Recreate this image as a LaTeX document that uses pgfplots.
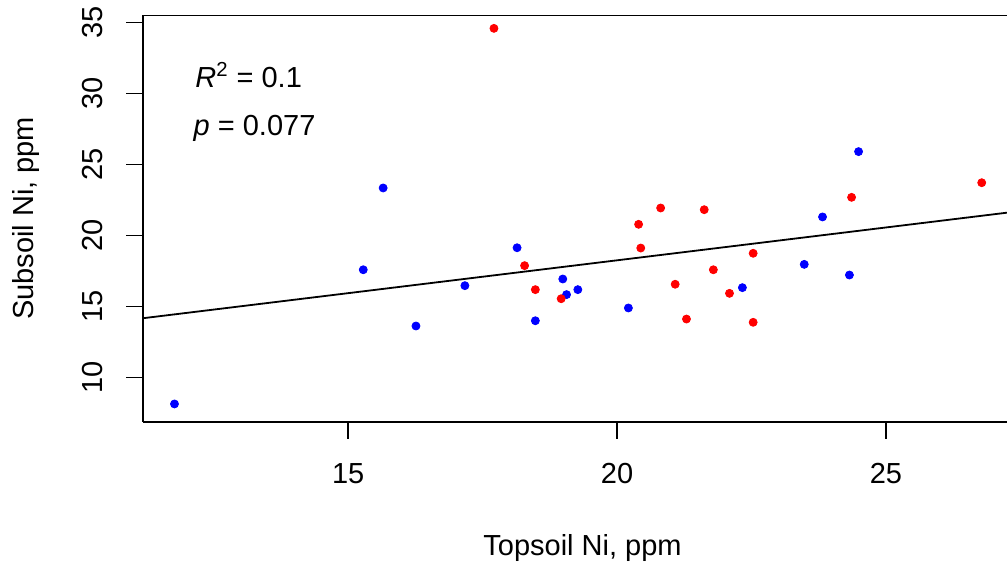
\documentclass[border=0pt]{standalone}
\usepackage{fontspec}
\setmainfont{Liberation Sans}
\usepackage{pgfplots}
\pgfplotsset{compat=1.18}
\pgfplotstableread{
x y
11.77 8.15
15.65 23.36
15.28 17.60
16.26 13.64
17.17 16.48
18.14 19.15
18.48 14.01
18.99 16.95
19.06 15.85
19.27 16.20
20.21 14.91
22.33 16.34
23.48 17.98
23.82 21.32
24.32 17.23
24.49 25.92
}\bluedata
\pgfplotstableread{
x y
17.71 34.60
18.28 17.89
18.48 16.20
18.96 15.56
20.40 20.80
20.44 19.13
20.81 21.95
21.08 16.58
21.29 14.13
21.62 21.83
21.79 17.60
22.09 15.94
22.53 18.76
22.53 13.90
24.36 22.70
26.78 23.73
}\reddata
\begin{document}
\begin{tikzpicture}[font=\fontsize{14.5}{17}\selectfont]
\begin{axis}[
  at={(0,0)}, anchor=south west,
  scale only axis, width=431.85pt, height=203.35pt,
  xmin=11.19, xmax=27.25, ymin=6.90, ymax=35.54,
  axis lines*=left,
  axis line style={black, line width=0.8pt},
  xtick={15,20,25}, ytick={10,15,...,35},
  tick align=outside, major tick length=8.5pt,
  tick style={black, line width=0.8pt},
  /pgf/number format/assume math mode=true,
  xticklabel style={anchor=north, inner sep=0pt},
  yticklabel style={rotate=90, anchor=base, inner sep=0pt},
  xticklabel shift=12pt, yticklabel shift=12pt,
  xlabel={Topsoil Ni, ppm}, ylabel={Subsoil Ni, ppm},
  xlabel style={at={(axis description cs:0.5085,-0.3278)}, anchor=base, inner sep=0pt},
  ylabel style={at={(axis description cs:-0.1271,0.5)}, anchor=base, inner sep=0pt},
]
\draw[black, line width=0.8pt] (rel axis cs:0,1) -- (rel axis cs:1,1);
\addplot[black, line width=0.9pt] coordinates {(11.19,14.19) (27.38,21.68)};
\addplot[only marks, mark=*, mark size=2pt, draw=none, mark options={fill=blue, draw=blue}] table[x=x, y=y] {\bluedata};
\addplot[only marks, mark=*, mark size=2pt, draw=none, mark options={fill=red, draw=red}] table[x=x, y=y] {\reddata};
\node[anchor=base west, inner sep=0pt] at (axis cs:12.15,30.47) {\textit{R}\textsuperscript{2} = 0.1};
\node[anchor=base west, inner sep=0pt] at (axis cs:12.12,27.02) {\textit{p} = 0.077};
\end{axis}
\pgfresetboundingbox
\path[use as bounding box] (-71.65pt,-71.15pt) rectangle (431.85pt,210.85pt);
\end{tikzpicture}
\end{document}
